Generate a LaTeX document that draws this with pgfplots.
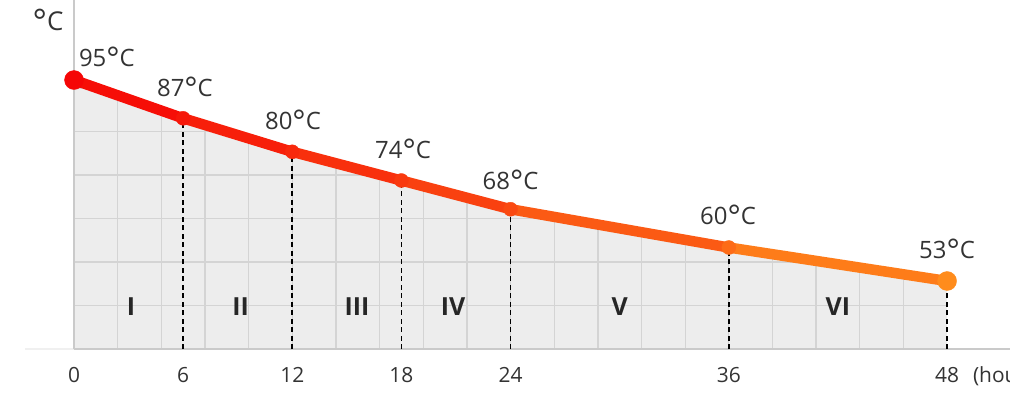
\documentclass[border=0pt]{standalone}
\usepackage{pgfplots}
\pgfplotsset{compat=1.18}
\usepackage{pgfplotstable}
\usepackage{graphicx}
\usepackage{fontspec}
\setmainfont{Open Sans}

\definecolor{txt}{HTML}{333333}
\definecolor{shade}{HTML}{EDEDED}
\definecolor{gridc}{HTML}{D4D4D4}
\definecolor{axisc}{HTML}{CACACA}
\definecolor{faint}{HTML}{F0F0F0}
\pgfplotsset{colormap={heat}{rgb255=(245,6,6) rgb255=(255,140,28)}}
\newcommand\dg{\raisebox{-0.12em}{\scalebox{1.3}{°}}}

% cooling curve: hours, temperature in degrees C
\pgfplotstableread{
h T
0 95
6 87
12 80
18 74
24 68
36 60
48 53
}\cooling

\pgfplotstableread{
h T
6 87
12 80
18 74
24 68
36 60
}\inner

\pgfplotstableread{
h T
0 95
48 53
}\ends

\begin{document}
\begin{tikzpicture}
\begin{axis}[
  scale only axis, width=873bp, height=349bp,
  xmin=0, xmax=48, ymin=38.79, ymax=111.72,
  clip=false,
  axis line style={draw=none},
  tick style={draw=none},
  major tick length=0pt, minor tick length=0pt,
  xtick={0,6,12,18,24,36,48},
  xticklabels={0,6,12,18,24,36,48\rlap{\hspace{14bp}\smash{(hours)}}},
  ytick={47.88,56.97,66.06,75.15,84.24,93.33,102.42},
  yticklabels={},
  minor xtick={2.4,4.8,7.2,9.6,12,14.4,16.8,19.2,21.6,24,26.4,28.8,31.2,33.6,36,38.4,40.8,43.2,45.6},
  xminorgrids, ymajorgrids,
  minor grid style={gridc, line width=1.3bp},
  major grid style={gridc, line width=1.3bp},
  axis background/.style={fill=shade},
  x tick label style={font=\fontsize{21}{21}\selectfont, text=txt, yshift=-15bp},
  colormap name=heat,
  point meta min=0, point meta max=48,
]

% white above the curve hides the grey and the grid there
\addplot[draw=none, fill=white] coordinates {
  (0,95) (6,87) (12,80) (18,74) (24,68) (36,60) (48,53)
  (48.6,53) (48.6,112.5) (-0.3,112.5) (-0.3,95)};

% axis lines
\addplot[faint, line width=1.5bp] coordinates {(-2.7,38.79) (0,38.79)};
\addplot[axisc, line width=1.5bp] coordinates {(0,38.79) (51.5,38.79)};
\addplot[axisc, line width=1.5bp] coordinates {(0,38.79) (0,111.72)};

% drop lines
\addplot[black, line width=1.8bp, dash pattern=on 5bp off 3.5bp, unbounded coords=jump]
  coordinates {(6,38.79) (6,87) (6,nan)
               (12,38.79) (12,80) (12,nan)
               (18,38.79) (18,74) (18,nan)
               (24,38.79) (24,68) (24,nan)
               (36,38.79) (36,60) (36,nan)
               (48,38.79) (48,53)};

% curve
\addplot[mesh, point meta=x, line width=10.5bp, line cap=round, line join=round] table {\cooling};
\addplot[scatter, only marks, mark=*, mark size=7bp, point meta=x,
  scatter/use mapped color={draw=mapped color, fill=mapped color}] table {\inner};
\addplot[scatter, only marks, mark=*, mark size=9.5bp, point meta=x,
  scatter/use mapped color={draw=mapped color, fill=mapped color}] table {\ends};

% value labels
\begin{scope}[every node/.style={font=\fontsize{24}{24}\selectfont, text=txt}]
\node at (axis cs:1.81,99.6) {95\dg C};
\node at (axis cs:6.1,93.3) {87\dg C};
\node at (axis cs:12.04,86.4) {80\dg C};
\node at (axis cs:18.09,80.4) {74\dg C};
\node at (axis cs:24,73.9) {68\dg C};
\node at (axis cs:35.96,66.6) {60\dg C};
\node at (axis cs:48,59.5) {53\dg C};
\node[font=\fontsize{26}{26}\selectfont] at (axis cs:-1.43,107.3) {\dg C};
\end{scope}

% stage numerals
\begin{scope}[every node/.style={font=\bfseries\fontsize{25}{25}\selectfont, text=black!85}]
\node at (axis cs:3.13,47.7) {I};
\node at (axis cs:9.16,47.7) {II};
\node at (axis cs:15.56,47.7) {III};
\node at (axis cs:20.84,47.7) {IV};
\node at (axis cs:30,47.7) {V};
\node at (axis cs:42,47.7) {VI};
\end{scope}

\coordinate (bl) at (axis cs:-4.069,26.05);
\coordinate (tr) at (axis cs:51.46,111.72);
\end{axis}
\pgfresetboundingbox
\useasboundingbox (bl) rectangle (tr);
\end{tikzpicture}
\end{document}
